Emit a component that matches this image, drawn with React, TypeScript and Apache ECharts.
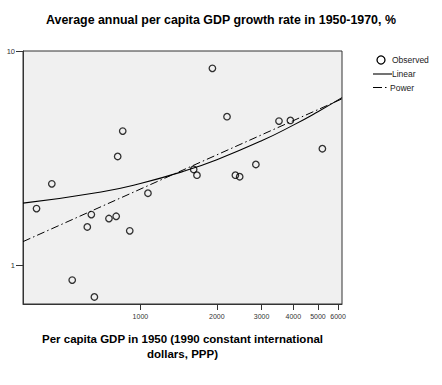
import React, { useEffect, useRef } from "react";
import * as echarts from "echarts";

// Observed: per capita GDP in 1950 vs average annual growth 1950-1970 (%)
const gdp1950 = [390, 448, 539, 659, 618, 641, 752, 803, 814, 852, 908, 1071, 1621, 1670, 1921, 2193, 2366, 2460, 2849, 3513, 3896, 5206];
const growth = [1.84, 2.4, 0.853, 0.712, 1.51, 1.725, 1.653, 1.694, 3.22, 4.23, 1.448, 2.17, 2.8, 2.634, 8.3, 4.94, 2.634, 2.59, 2.955, 4.71, 4.745, 3.5];

// Fitted curves
const linearFitX = [345, 700, 1000, 1500, 2000, 3000, 4000, 5000, 6220];
const linearFitY = [1.95, 2.2, 2.41, 2.76, 3.11, 3.81, 4.51, 5.21, 6.06];
const powerFitX = [345, 6220];
const powerFitY = [1.29, 5.98];

const xTicks = [1000, 2000, 3000, 4000, 5000, 6000];
const yTicks = [1, 10];

const titleText = "Average annual per capita GDP growth rate in 1950-1970, %";
const xName = "Per capita GDP in 1950 (1990 constant international\ndollars, PPP)";
const legendNames = ["Observed", "Linear", "Power"];

const FONT = "'Liberation Sans', Arial, sans-serif";

export default function App() {
  const ref = useRef<HTMLDivElement>(null);
  useEffect(() => {
    if (!ref.current) return;
    const chart = echarts.init(ref.current, null, { renderer: "svg" });
    const option: any = {
      animation: false,
      backgroundColor: "#ffffff",
      title: {
        text: titleText,
        left: "center",
        top: 9,
        textStyle: { fontSize: 12.4, fontWeight: "bold", color: "#000", fontFamily: FONT },
      },
      grid: {
        left: 23,
        top: 51,
        width: 319,
        height: 253,
        show: true,
        backgroundColor: "#f0f0f0",
        borderColor: "#333",
        borderWidth: 1,
      },
      xAxis: {
        type: "log",
        logBase: 10,
        min: 345,
        max: 6220,
        axisLine: { show: true, lineStyle: { color: "#333", width: 1 } },
        splitLine: { show: false },
        minorTick: { show: false },
        axisTick: { show: true, length: 6, customValues: xTicks, lineStyle: { color: "#333" } },
        axisLabel: {
          customValues: xTicks,
          fontSize: 7,
          margin: 9,
          color: "#333",
          fontFamily: FONT,
          formatter: (v: number) => String(Math.round(v)),
        },
        name: xName,
        nameLocation: "middle",
        nameGap: 27,
        nameTextStyle: { fontSize: 11.5, fontWeight: "bold", color: "#000", lineHeight: 15, fontFamily: FONT },
      },
      yAxis: {
        type: "log",
        logBase: 10,
        min: 0.66,
        max: 10,
        axisLine: { show: true, lineStyle: { color: "#333", width: 1 } },
        splitLine: { show: false },
        minorTick: { show: false },
        axisTick: { show: true, length: 7, customValues: yTicks, lineStyle: { color: "#333" } },
        axisLabel: {
          customValues: yTicks,
          fontSize: 7.5,
          margin: 8,
          color: "#333",
          fontFamily: FONT,
          formatter: (v: number) => String(Math.round(v)),
        },
      },
      series: [
        {
          name: legendNames[1],
          type: "line",
          data: linearFitX.map((x, i) => [x, linearFitY[i]]),
          smooth: true,
          symbol: "none",
          showSymbol: false,
          lineStyle: { color: "#000", width: 1.1 },
          z: 2,
        },
        {
          name: legendNames[2],
          type: "line",
          data: powerFitX.map((x, i) => [x, powerFitY[i]]),
          symbol: "none",
          showSymbol: false,
          lineStyle: { color: "#000", width: 1, type: [8, 3, 1.5, 3] },
          z: 2,
        },
        {
          name: legendNames[0],
          type: "scatter",
          data: gdp1950.map((x, i) => [x, growth[i]]),
          symbol: "circle",
          symbolSize: 6.5,
          itemStyle: { color: "rgba(0,0,0,0)", borderColor: "#000", borderWidth: 1.3 },
          z: 3,
        },
      ],
      graphic: [
        {
          type: "circle",
          shape: { cx: 381, cy: 60, r: 4 },
          style: { fill: "none", stroke: "#000", lineWidth: 1.3 },
        },
        {
          type: "text",
          x: 392,
          y: 60,
          style: { text: legendNames[0], fontSize: 8.5, fill: "#222", fontFamily: FONT, verticalAlign: "middle" },
        },
        {
          type: "line",
          shape: { x1: 373, y1: 74, x2: 392, y2: 74 },
          style: { stroke: "#000", lineWidth: 1.1 },
        },
        {
          type: "text",
          x: 392,
          y: 74,
          style: { text: legendNames[1], fontSize: 8.5, fill: "#222", fontFamily: FONT, verticalAlign: "middle" },
        },
        {
          type: "line",
          shape: { x1: 373, y1: 87.5, x2: 388, y2: 87.5 },
          style: { stroke: "#000", lineWidth: 1, lineDash: [9, 3, 1.5, 3] },
        },
        {
          type: "text",
          x: 390,
          y: 87.5,
          style: { text: legendNames[2], fontSize: 8.5, fill: "#222", fontFamily: FONT, verticalAlign: "middle" },
        },
      ],
    };
    chart.setOption(option);
    return () => chart.dispose();
  }, []);
  return <div ref={ref} style={{ position: "absolute", left: 0, top: 0, width: 442, height: 385 }} />;
}
